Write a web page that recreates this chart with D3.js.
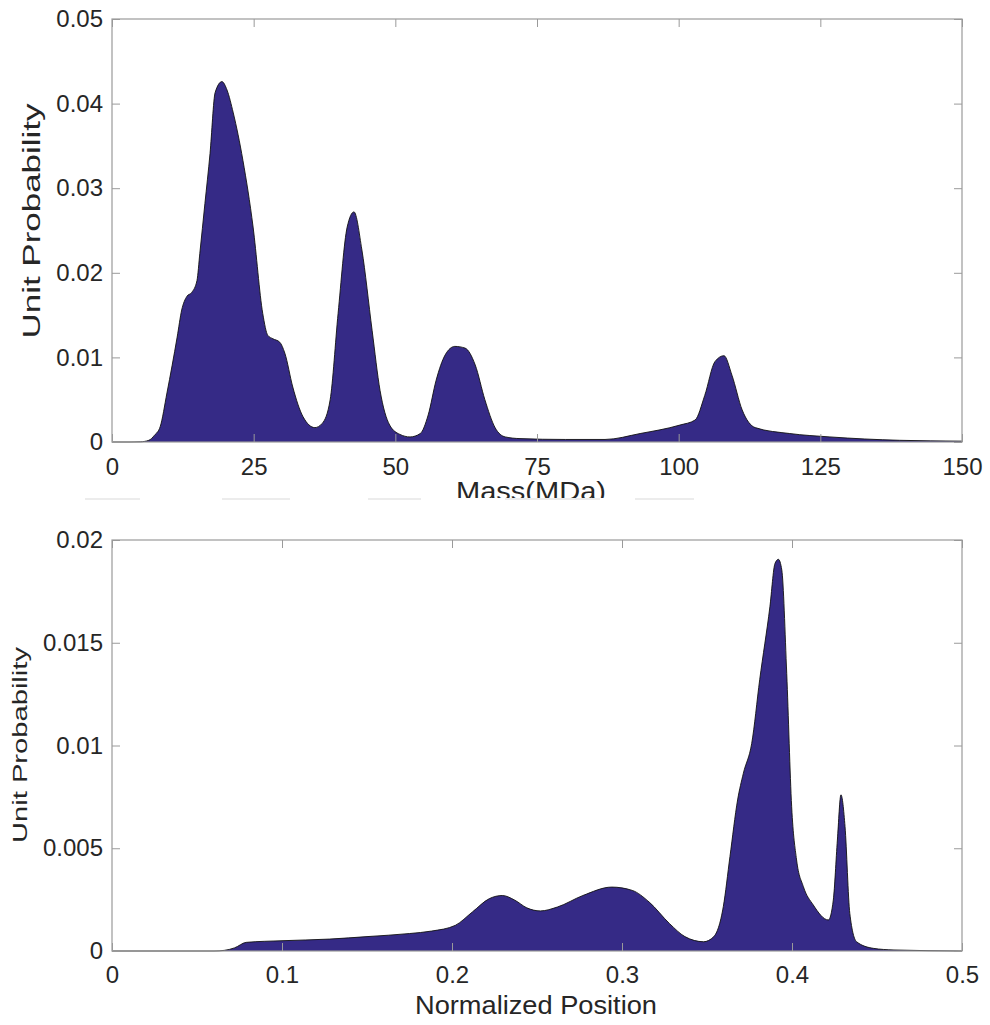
<!DOCTYPE html>
<html lang="en">
<head>
<meta charset="UTF-8">
<title>Unit probability</title>
<script src="https://cdn.jsdelivr.net/npm/d3@7"></script>
<style>
  body { margin: 0; background: #fff; }
  svg text { font-family: "Liberation Sans", Arial, sans-serif; fill: #262626; }
</style>
</head>
<body>
<div id="chart"></div>
<script>
// top panel: mass distribution
const massX = [0, 3, 5, 6.5, 7.5, 8.5, 9.7, 11.5, 12.3, 13.2, 14.1, 15, 15.5, 16.4, 17.3, 18.2, 19.4, 20.3, 21.4, 23.1, 24.9, 26.6, 27.5, 28.4, 29.6, 30.5, 31.9, 33.7, 35.8, 37.1, 38.5, 39.9, 41.5, 42.7, 44.1, 45.9, 47.3, 49, 50.8, 52.6, 54.4, 55.8, 57.2, 58.8, 60.5, 62.3, 64.1, 65.8, 67.6, 69.4, 72, 80, 87, 93.2, 100.2, 102.9, 104.6, 106.4, 108, 109.4, 111.2, 113.5, 119.6, 126.7, 139, 150];
const massP = [0, 0, 0.00002, 0.0002, 0.0008, 0.0018, 0.0058, 0.0124, 0.0156, 0.0172, 0.0177, 0.0191, 0.0223, 0.0282, 0.0341, 0.0413, 0.0426, 0.0416, 0.0389, 0.0333, 0.0254, 0.0152, 0.0126, 0.0122, 0.0118, 0.0105, 0.0065, 0.0030, 0.0017, 0.0022, 0.0050, 0.0152, 0.0254, 0.0272, 0.0227, 0.0132, 0.0061, 0.002, 0.0009, 0.0006, 0.001, 0.0032, 0.0073, 0.0103, 0.0113, 0.0111, 0.0091, 0.005, 0.0017, 0.0006, 0.0004, 0.0003, 0.0003, 0.001, 0.002, 0.0026, 0.0055, 0.0095, 0.0102, 0.0079, 0.0038, 0.0017, 0.001, 0.0006, 0.0002, 0.0001];
const massTicks = [0, 25, 50, 75, 100, 125, 150];
const massYTicks = [0, 0.01, 0.02, 0.03, 0.04, 0.05];

// bottom panel: normalized position
const posX = [0, 0.06, 0.066, 0.072, 0.079, 0.1, 0.128, 0.15, 0.175, 0.188, 0.202, 0.212, 0.222, 0.2296, 0.237, 0.244, 0.252, 0.262, 0.277, 0.294, 0.306, 0.316, 0.328, 0.337, 0.348, 0.354, 0.3596, 0.3635, 0.368, 0.3714, 0.3763, 0.381, 0.387, 0.39, 0.392, 0.394, 0.3969, 0.3998, 0.4027, 0.4067, 0.4125, 0.4214, 0.4243, 0.4267, 0.4288, 0.4312, 0.434, 0.438, 0.4478, 0.46, 0.5];
const posP = [0, 0, 0.00003, 0.00015, 0.00042, 0.0005, 0.00058, 0.0007, 0.00085, 0.00097, 0.00125, 0.0019, 0.00255, 0.0027, 0.00247, 0.0021, 0.00195, 0.00214, 0.0027, 0.00311, 0.00295, 0.00238, 0.00133, 0.0007, 0.00045, 0.0007, 0.00216, 0.00459, 0.00735, 0.00865, 0.0101, 0.0132, 0.01675, 0.01886, 0.01906, 0.01854, 0.0135, 0.00702, 0.00443, 0.00313, 0.00224, 0.00151, 0.00248, 0.0054, 0.0076, 0.00605, 0.00183, 0.00045, 0.00013, 0.00005, 0];
const posTicks = [0, 0.1, 0.2, 0.3, 0.4, 0.5];
const posYTicks = [0, 0.005, 0.01, 0.015, 0.02];

const width = 990, height = 1025;
const fillColor = "#352a86";
const boxColor = "#9a9a9a";

const svg = d3.select("#chart").append("svg")
    .attr("width", width)
    .attr("height", height);

svg.append("rect").attr("width", width).attr("height", height).attr("fill", "#fff");

function panel(cfg) {
  const x = d3.scaleLinear().domain(cfg.xDomain).range([112, 962]);
  const y = d3.scaleLinear().domain(cfg.yDomain).range([cfg.bottom, cfg.top]);
  const data = cfg.xs.map((v, i) => [v, cfg.ys[i]]);

  const g = svg.append("g");

  const area = d3.area()
      .x(d => x(d[0]))
      .y0(y(0))
      .y1(d => y(d[1]))
      .curve(d3.curveMonotoneX);
  const line = d3.line()
      .x(d => x(d[0]))
      .y(d => y(d[1]))
      .curve(d3.curveMonotoneX);

  g.append("path").attr("d", area(data)).attr("fill", fillColor);
  g.append("path").attr("d", line(data))
      .attr("fill", "none").attr("stroke", "#111").attr("stroke-width", 0.9);

  const fmt = cfg.fmt;
  const ax = (a) => a.tickSizeInner(-8).tickSizeOuter(0);

  const bottomAx = g.append("g").attr("transform", `translate(0,${cfg.bottom})`)
      .call(ax(d3.axisBottom(x)).tickValues(cfg.xTicks).tickFormat(fmt.x).tickPadding(cfg.xPad));
  const leftAx = g.append("g").attr("transform", "translate(112,0)")
      .call(ax(d3.axisLeft(y)).tickValues(cfg.yTicks).tickFormat(fmt.y).tickPadding(9));
  const topAx = g.append("g").attr("transform", `translate(0,${cfg.top})`)
      .call(ax(d3.axisTop(x)).tickValues(cfg.xTicks).tickFormat(""));
  const rightAx = g.append("g").attr("transform", "translate(962,0)")
      .call(ax(d3.axisRight(y)).tickValues(cfg.yTicks).tickFormat(""));

  [bottomAx, leftAx, topAx, rightAx].forEach(a => {
    a.select(".domain").remove();
    a.selectAll("line").attr("stroke", boxColor);
    a.selectAll("text").attr("font-size", 24).attr("fill", "#262626");
  });

  g.append("rect")
      .attr("x", 112).attr("y", cfg.top)
      .attr("width", 850).attr("height", cfg.bottom - cfg.top)
      .attr("fill", "none").attr("stroke", boxColor).attr("stroke-width", 1.2);

  // y label
  g.append("text")
      .attr("transform", `translate(${cfg.yLab.x},${cfg.yLab.cy}) rotate(-90)`)
      .attr("text-anchor", "middle")
      .attr("font-size", cfg.yLab.size)
      .attr("textLength", cfg.yLab.len)
      .attr("lengthAdjust", "spacingAndGlyphs")
      .text("Unit Probability");

  // x label
  g.append("text")
      .attr("x", cfg.xLab.cx).attr("y", cfg.xLab.y)
      .attr("text-anchor", "middle")
      .attr("font-size", cfg.xLab.size)
      .attr("textLength", cfg.xLab.len)
      .attr("lengthAdjust", "spacingAndGlyphs")
      .text(cfg.xLab.text);
}

const fmtNum = d => d === 0 ? "0" : String(+d.toFixed(4));

panel({
  xs: massX, ys: massP, xDomain: [0, 150], yDomain: [0, 0.05],
  top: 19, bottom: 442, xTicks: massTicks, yTicks: massYTicks, xPad: 16,
  fmt: { x: d => String(d), y: fmtNum },
  yLab: { x: 40, cy: 221, size: 23, len: 235 },
  xLab: { cx: 531, y: 500, size: 25, len: 150, text: "Mass(MDa)" }
});

panel({
  xs: posX, ys: posP, xDomain: [0, 0.5], yDomain: [0, 0.02],
  top: 540, bottom: 951, xTicks: posTicks, yTicks: posYTicks, xPad: 15,
  fmt: { x: fmtNum, y: fmtNum },
  yLab: { x: 27, cy: 745, size: 20, len: 196 },
  xLab: { cx: 536, y: 1014, size: 25, len: 242, text: "Normalized Position" }
});

// the top panel's x label is cut off at the bottom, with faint smear lines
svg.append("rect").attr("x", 0).attr("y", 498).attr("width", width).attr("height", 30).attr("fill", "#fff");
const smears = [[85, 140], [222, 290], [368, 421], [505, 600], [635, 694]];
svg.append("g").selectAll("rect").data(smears).join("rect")
    .attr("x", d => d[0]).attr("y", 498)
    .attr("width", d => d[1] - d[0]).attr("height", 2)
    .attr("fill", "#ececec");
</script>
</body>
</html>
